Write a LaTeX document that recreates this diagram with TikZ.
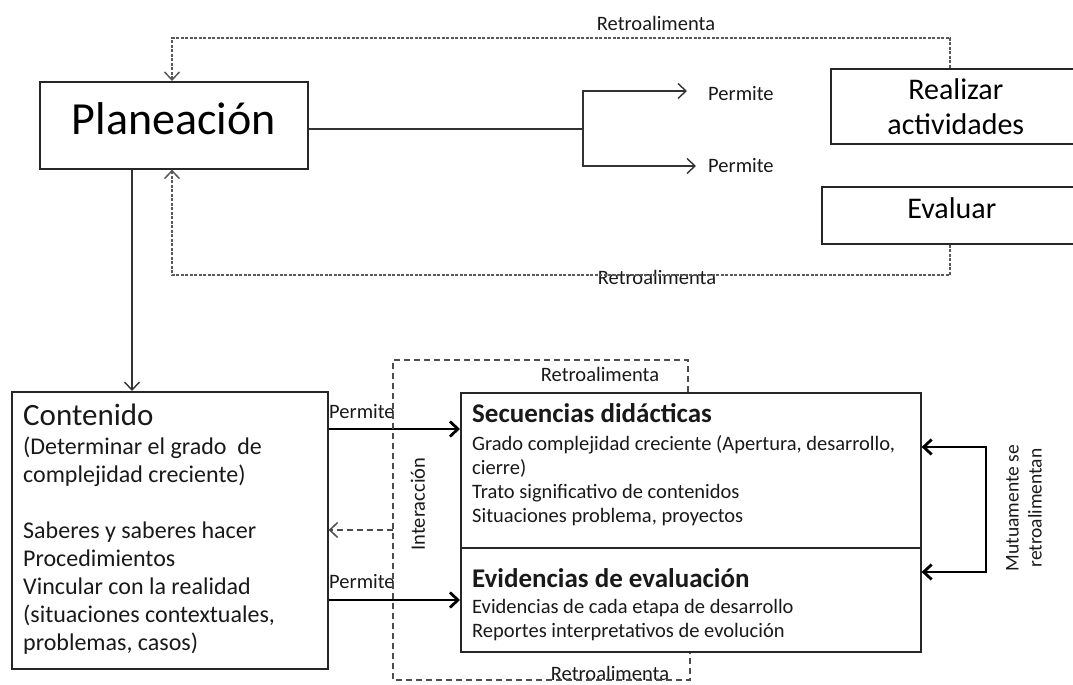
\documentclass[tikz,border=0pt]{standalone}
\usepackage{fontspec}
\setmainfont{Carlito}
\usetikzlibrary{arrows.meta}
\newcommand\fsz[2]{\fontsize{#1}{#2}\selectfont}
\begin{document}
\begin{tikzpicture}[x=1pt,y=-1pt,
 box/.style={draw=black!85,line width=1.6pt,inner sep=0pt,anchor=north west},
 thinln/.style={draw=black!80,line width=1.4pt},
 thickln/.style={draw=black,line width=2.8pt},
 fb/.style={draw=black!65,line width=1.5pt,dash pattern=on 3pt off 1.5pt},
 ia/.style={draw=black!70,line width=1.5pt,dash pattern=on 6pt off 4pt},
 tip/.style={-{Straight Barb[length=8pt,width=15pt]}},
 lbl/.style={font=\fsz{20.5}{24},text=black!90,inner sep=0pt},
 txt/.style={inner sep=0pt,anchor=north west,align=left,text=black!90},
 ]
\useasboundingbox (0,0) rectangle (1073,685);

% boxes
\node[box,minimum width=268pt,minimum height=87pt,font=\fsz{46}{50},text height=34pt,text depth=15pt] (plan) at (39,81) {Planeación};
\node[box,minimum width=250pt,minimum height=75pt,font=\fsz{30}{35},align=center] (real) at (830,68) {Realizar\\actividades};
\node[box,minimum width=260pt,minimum height=57pt,font=\fsz{30}{35},text height=20pt,text depth=13pt] (eval) at (821,186) {Evaluar};
\node[box,minimum width=316pt,minimum height=277pt] (cont) at (11,391) {};
\node[box,minimum width=460pt,minimum height=155pt] (sec) at (460,392) {};
\node[box,minimum width=460pt,minimum height=104pt] (evi) at (460,547) {};

% texts in boxes
\node[txt,font=\fsz{31}{36}] (contT) at (23,404) {Contenido};
\node[txt,font=\fsz{24}{28}] (contB) at (23,437) {(Determinar el grado \ de\\complejidad creciente)\\[28pt]Saberes y saberes hacer\\Procedimientos\\Vincular con la realidad\\(situaciones contextuales,\\problemas, casos)};
\node[txt,font=\bfseries\fsz{27}{30}] (secT) at (472,403) {Secuencias didácticas};
\node[txt,font=\fsz{20.5}{24}] (secB) at (472,435) {Grado complejidad creciente (Apertura, desarrollo,\\cierre)\\Trato significativo de contenidos\\Situaciones problema, proyectos};
\node[txt,font=\bfseries\fsz{27}{30}] (eviT) at (472,568) {Evidencias de evaluación};
\node[txt,font=\fsz{20.5}{24}] (eviB) at (472,599) {Evidencias de cada etapa de desarrollo\\Reportes interpretativos de evolución};

% labels
\node[lbl] (lt) at (656,23) {Retroalimenta};
\node[lbl] (lb) at (657,277) {Retroalimenta};
\node[lbl,anchor=west] (p1) at (708,94) {Permite};
\node[lbl,anchor=west] (p2) at (708,166) {Permite};
\node[lbl,anchor=west] (pc1) at (329,412) {Permite};
\node[lbl,anchor=west] (pc2) at (329,582) {Permite};
\node[lbl] (ls) at (600,374) {Retroalimenta};
\node[lbl] (le) at (610,673) {Retroalimenta};
\node[lbl,rotate=90] (inter) at (418,504) {Interacción};
\node[lbl,rotate=90,align=center,font=\fsz{19.5}{23}] (mut) at (1024,508) {Mutuamente se\\retroalimentan};

% coordinates
\coordinate (xd) at (132,0);
\coordinate (br) at (583,129);
\coordinate (t1) at (950,38);
\coordinate (t2) at (172,38);
\coordinate (b1) at (950,275);
\coordinate (b2) at (172,275);
\coordinate (s1) at (0,429);
\coordinate (s2) at (0,600);
\coordinate (i1) at (393,360);
\coordinate (i2) at (688,360);
\coordinate (i3) at (393,680);
\coordinate (i4) at (690,680);
\coordinate (ic) at (393,530);
\coordinate (l1) at (986,447);
\coordinate (l2) at (986,572);

% connectors
\draw[thinln,tip] (plan.south -| xd) -- (cont.north -| xd);
\draw[thinln] (plan.east |- br) -- (br);
\draw[thinln,tip] (br) |- ([xshift=-21pt,yshift=3pt]p1.west);
\draw[thinln,tip] (br) |- ([xshift=-12pt]p2.west);
\draw[fb,tip] (real.north -| t1) -- (t1) -- (t2) -- (plan.north -| t2);
\draw[fb,tip] (eval.south -| b1) -- (b1) -- (b2) -- (plan.south -| b2);
\draw[thickln,tip] (cont.east |- s1) -- (sec.west |- s1);
\draw[thickln,tip] (cont.east |- s2) -- (evi.west |- s2);
\draw[ia] (sec.north -| i2) -- (i2) -- (i1) -- (i3) -- (i4) -- (evi.south -| i4);
\draw[ia,tip] (ic) -- (cont.east |- ic);
\draw[thickln,{Straight Barb[length=8pt,width=15pt]}-{Straight Barb[length=8pt,width=15pt]}] (sec.east |- l1) -- (l1) -- (l2) -- (evi.east |- l2);
\end{tikzpicture}
\end{document}
